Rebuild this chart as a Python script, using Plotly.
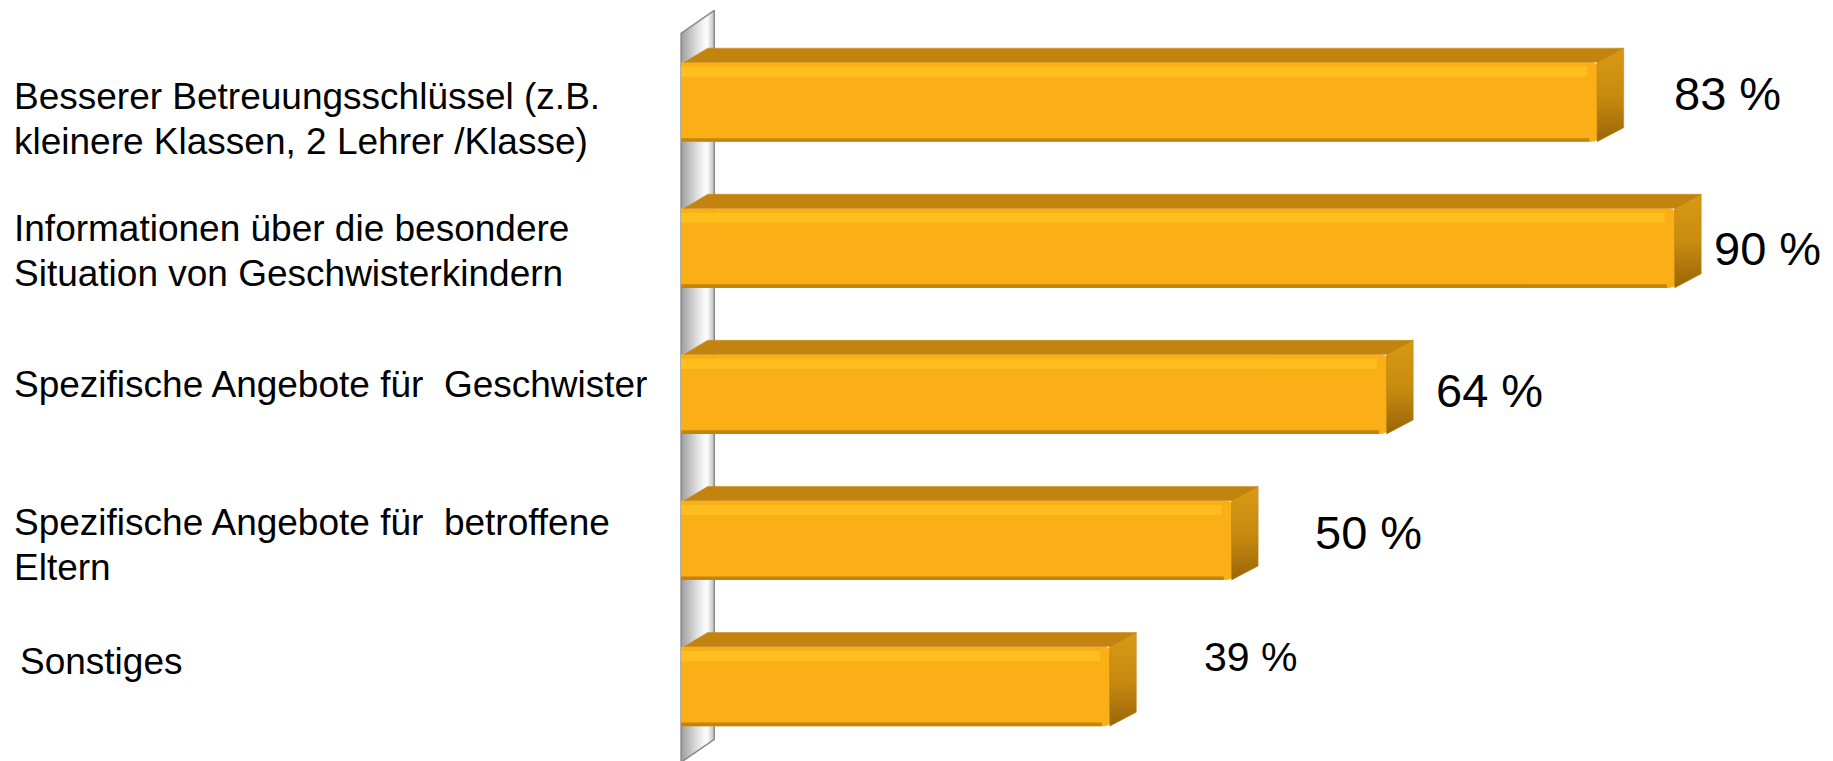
import plotly.graph_objects as go

# ---------------- data ----------------
categories = [
    "Besserer Betreuungsschlüssel (z.B.<br>kleinere Klassen, 2 Lehrer /Klasse)",
    "Informationen über die besondere<br>Situation von Geschwisterkindern",
    "Spezifische Angebote für  Geschwister",
    "Spezifische Angebote für  betroffene<br>Eltern",
    "Sonstiges",
]
values = [83, 90, 64, 50, 39]
value_labels = ["83 %", "90 %", "64 %", "50 %", "39 %"]

# ---------------- style / layout helpers ----------------
W = 0.545          # front-face thickness (category units)
DX = 2.1           # 3D depth in x (data units)
DY = 0.096         # 3D depth in y (category units)
label_dx = [127, 90, 100, 134, 137]      # px shift of value labels from bar end
label_dy = [8, 0, 4, 8, 29]              # px shift up of value labels
label_size = [47, 47, 47, 47, 41]
cat_dy = [-17, -3, 10, -5, 25]           # px shift of category label blocks
cat_dx = [0, 0, 0, 0, 6]
LINE_GAP = 45                            # px between label lines
CAT_FONT = 37

FRONT = "#FBAF17"
TOP = "#C3840F"
SIDE = "#B97C0C"
HILITE = "#FFC41F"
SHADE = "#B57A0B"

XR = [-1, 104]
YR = [4.511, -0.698]

fig = go.Figure()
ys = list(range(len(values)))

# wall (left "axis wall") on the base axes, so everything else is drawn over it
wall_top, wall_bot = -0.47, 4.52
wdx, wdy = 3.0, 0.157
fig.add_trace(go.Scatter(
    x=[0, 0, wdx, wdx, 0],
    y=[wall_bot, wall_top, wall_top - wdy, wall_bot - wdy, wall_bot],
    fill="toself", mode="lines",
    line=dict(color="#8a8a8a", width=1.5),
    fillgradient=dict(type="horizontal",
                      colorscale=[[0, "#9d9d9d"], [0.5, "#e2e2e2"], [0.78, "#ffffff"], [1, "#bcbcbc"]]),
    hoverinfo="skip", showlegend=False, xaxis="x", yaxis="y",
))

# front faces (bars) on the overlay axes
fig.add_trace(go.Bar(
    x=values, y=ys, orientation="h", width=W, offset=-W / 2,
    marker=dict(color=FRONT, line=dict(width=0), cornerradius=9),
    hoverinfo="skip", showlegend=False, xaxis="x2", yaxis="y2"))
# highlight strip near top
fig.add_trace(go.Bar(
    x=[v - 1.2 for v in values], y=ys, orientation="h", width=0.07, offset=-W / 2 + 0.03,
    marker=dict(color=HILITE, line=dict(width=0)), opacity=0.75,
    hoverinfo="skip", showlegend=False, xaxis="x2", yaxis="y2"))
# shade strip at bottom
fig.add_trace(go.Bar(
    x=[v - 1.0 for v in values], y=ys, orientation="h", width=0.025, offset=W / 2 - 0.025,
    marker=dict(color=SHADE, line=dict(width=0)), opacity=0.8,
    hoverinfo="skip", showlegend=False, xaxis="x2", yaxis="y2"))

# top faces and side faces (derived from values)
for i, v in zip(ys, values):
    t = i - W / 2
    b = i + W / 2
    fig.add_trace(go.Scatter(
        x=[0.3, v, v + DX, DX + 0.3, 0.3], y=[t, t, t - DY, t - DY, t],
        fill="toself", mode="lines", line=dict(color=TOP, width=0.5),
        fillcolor=TOP, hoverinfo="skip", showlegend=False, xaxis="x2", yaxis="y2"))
    fig.add_trace(go.Scatter(
        x=[v - 0.3, v + DX, v + DX, v - 0.3, v - 0.3],
        y=[t, t - DY, b - DY, b, t],
        fill="toself", mode="lines", line=dict(color=SIDE, width=0.5),
        fillgradient=dict(type="vertical",
                          colorscale=[[0, "#9a6508"], [0.5, "#c98b10"], [1, "#d89a14"]]),
        hoverinfo="skip", showlegend=False, xaxis="x2", yaxis="y2"))

annotations = []
for i, (v, lab) in enumerate(zip(values, value_labels)):
    annotations.append(dict(
        x=v, y=i, xref="x2", yref="y2", text=lab, showarrow=False,
        xanchor="center", yanchor="middle", xshift=label_dx[i], yshift=label_dy[i],
        font=dict(family="Liberation Sans, Arial, sans-serif", size=label_size[i], color="#000000")))
for i, c in enumerate(categories):
    lines = c.split("<br>")
    n = len(lines)
    for k, ln in enumerate(lines):
        off = (k - (n - 1) / 2) * LINE_GAP
        annotations.append(dict(
            x=0, y=i, xref="paper", yref="y2", text=ln, showarrow=False,
            xanchor="left", yanchor="middle", align="left",
            xshift=-658 + cat_dx[i], yshift=cat_dy[i] - off,
            font=dict(family="Liberation Sans, Arial, sans-serif",
                      size=CAT_FONT, color="#000000")))

fig.update_layout(
    width=1833, height=761,
    margin=dict(l=670, r=0, t=0, b=0),
    paper_bgcolor="white", plot_bgcolor="white",
    barmode="overlay",
    xaxis=dict(range=XR, visible=False, fixedrange=True),
    yaxis=dict(range=YR, visible=False, fixedrange=True),
    xaxis2=dict(range=XR, visible=False, fixedrange=True, overlaying="x"),
    yaxis2=dict(range=YR, visible=False, fixedrange=True, overlaying="y"),
    annotations=annotations,
    showlegend=False,
)

fig.write_html("out.html")
